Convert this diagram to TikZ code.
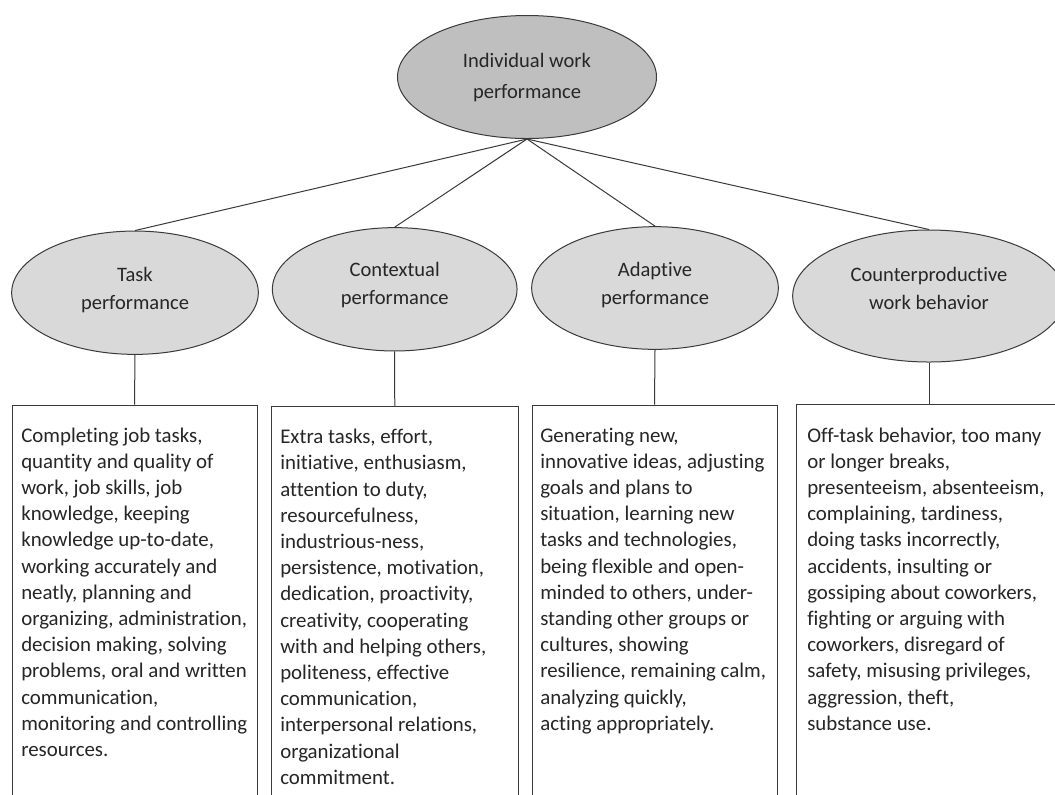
\documentclass[tikz,border=0pt]{standalone}
\usepackage{fontspec}
\setmainfont{Carlito}[Ligatures=NoCommon]
\usetikzlibrary{shapes.geometric,fit}
\definecolor{topfill}{HTML}{BFBFBF}
\definecolor{subfill}{HTML}{D9D9D9}
\definecolor{ink}{HTML}{262626}
\definecolor{edge}{HTML}{3A3A3A}
\begin{document}
\begin{tikzpicture}[x=0.75pt,y=-0.75pt,
  topell/.style={ellipse, draw=edge, line width=0.75pt, fill=topfill, inner sep=0pt},
  subell/.style={ellipse, draw=edge, line width=0.75pt, fill=subfill, inner sep=0pt},
  detailbox/.style={rectangle, draw=edge, line width=0.75pt, inner sep=0pt},
  etext/.style={font=\fontsize{15.4}{21}\selectfont, align=center, anchor=north, inner sep=0pt, text=ink},
  btext/.style={font=\fontsize{15.65}{19.65}\selectfont, align=left, anchor=north west, inner sep=0pt, text=ink},
  link/.style={draw=edge, line width=0.75pt}]
\useasboundingbox (0,0) rectangle (1055,794);
\clip (0,0) rectangle (1055,794);
\fill[white] (0,0) rectangle (1055,794);

% ellipses
\node[topell, minimum width=194.25pt, minimum height=92.25pt] (top) at (527,77) {};
\node[subell, minimum width=185pt, minimum height=92.5pt] (task) at (135,292.7) {};
\node[subell, minimum width=183.5pt, minimum height=92.5pt] (ctx) at (394.7,289.3) {};
\node[subell, minimum width=185pt, minimum height=92pt] (adp) at (655,288) {};
\node[subell, minimum width=204.5pt, minimum height=99pt] (cwb) at (929,296) {};

% ellipse texts
\node[etext, font=\fontsize{15.4}{23.25}\selectfont] (topT) at (527,46) {\strut Individual work\\performance};
\node[etext] (taskT) at (135,261.4) {\strut Task\\performance};
\node[etext] (ctxT) at (394.7,256.4) {\strut Contextual\\performance};
\node[etext] (adpT) at (655,257) {\strut Adaptive\\performance};
\node[etext] (cwbT) at (929,261.4) {\strut Counterproductive\\work behavior};

% boxes
\node[detailbox, fit={(12,405) (257,830)}] (b1) {};
\node[detailbox, fit={(271.5,406.7) (518,830)}] (b2) {};
\node[detailbox, fit={(532,405) (777,830)}] (b3) {};
\node[detailbox, fit={(796.5,404) (1061.5,830)}] (b4) {};

% connectors
\draw[link] (top.south) -- (task.north);
\draw[link] (top.south) -- (ctx.north);
\draw[link] (top.south) -- (adp.north);
\draw[link] (top.south) -- (cwb.north);
\draw[link] (task.south) -- (b1.north);
\draw[link] (ctx.south) -- (b2.north);
\draw[link] (adp.south) -- (b3.north);
\draw[link] (cwb.south) -- (b4.north);

% box texts
\node[btext] (b1T) at (21,423.4) {\strut Completing job tasks,\\quantity and quality of\\work, job skills, job\\knowledge, keeping\\knowledge up-to-date,\\working accurately and\\neatly, planning and\\organizing, administration,\\decision making, solving\\problems, oral and written\\communication,\\monitoring and controlling\\resources.};
\node[btext] (b2T) at (280,425) {\strut Extra tasks, effort,\\initiative, enthusiasm,\\attention to duty,\\resourcefulness,\\industrious-ness,\\persistence, motivation,\\dedication, proactivity,\\creativity, cooperating\\with and helping others,\\politeness, effective\\communication,\\interpersonal relations,\\organizational\\commitment.};
\node[btext] (b3T) at (540,423.4) {\strut Generating new,\\innovative ideas, adjusting\\goals and plans to\\situation, learning new\\tasks and technologies,\\being flexible and open-\\minded to others, under-\\standing other groups or\\cultures, showing\\resilience, remaining calm,\\analyzing quickly,\\acting appropriately.};
\node[btext] (b4T) at (807,423.4) {\strut Off-task behavior, too many\\or longer breaks,\\presenteeism, absenteeism,\\complaining, tardiness,\\doing tasks incorrectly,\\accidents, insulting or\\gossiping about coworkers,\\fighting or arguing with\\coworkers, disregard of\\safety, misusing privileges,\\aggression, theft,\\substance use.};
\end{tikzpicture}
\end{document}
